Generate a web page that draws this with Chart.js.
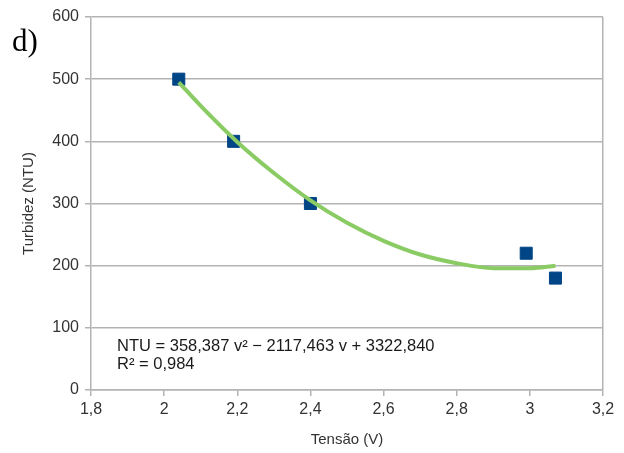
<!DOCTYPE html>
<html>
<head>
<meta charset="utf-8">
<script src="https://cdn.jsdelivr.net/npm/chart.js@4/dist/chart.umd.min.js"></script>
<style>
  html, body { margin: 0; padding: 0; background: #fff; }
  #wrap { width: 624px; height: 453px; position: relative; }
</style>
</head>
<body>
<div id="wrap"><canvas id="c"></canvas></div>
<script>
// measured points
const tensao = [2.04, 2.19, 2.4, 2.99, 3.07]
const turbidez = [500, 400, 300, 220, 180]

// polynomial trend line
const trendX = [2.04, 2.1, 2.2, 2.3, 2.4, 2.5, 2.6, 2.7, 2.8, 2.9, 3.0, 3.07]
const trendY = [495, 457, 399, 349, 305, 269, 240, 218, 204, 196, 196, 200]

const xTicks = [1.8, 2, 2.2, 2.4, 2.6, 2.8, 3, 3.2]
const yTicks = [0, 100, 200, 300, 400, 500, 600]

const eqLines = ["NTU = 358,387 v² − 2117,463 v + 3322,840", "R² = 0,984"]

const grey = "#b3b3b3"
const fmt = v => String(v).replace(".", ",")

const extras = {
  id: "extras",
  afterDraw(chart) {
    const c = chart.ctx
    const a = chart.chartArea
    c.save()
    c.fillStyle = "#000"
    c.font = "31px 'Liberation Serif'"
    c.textBaseline = "alphabetic"
    c.fillText("d)", 12, 51)
    c.fillStyle = "#1a1a1a"
    c.font = "16.5px 'Liberation Sans'"
    c.fillText(eqLines[0], a.left + 26, 351)
    c.fillText(eqLines[1], a.left + 26, 369)
    c.restore()
  }
}

new Chart(document.getElementById("c"), {
  type: "scatter",
  data: {
    datasets: [
      {
        data: trendX.map((x, i) => ({ x, y: trendY[i] })),
        showLine: true,
        borderColor: "#8acb64",
        borderWidth: 4,
        pointRadius: 0,
        cubicInterpolationMode: "monotone"
      },
      {
        data: tensao.map((x, i) => ({ x, y: turbidez[i] })),
        backgroundColor: "#004586",
        borderColor: "#004586",
        pointStyle: "rect",
        pointRadius: 8.5,
        borderWidth: 1
      }
    ]
  },
  options: {
    responsive: true,
    maintainAspectRatio: false,
    animation: false,
    layout: { padding: { top: 17, right: 21, left: 16, bottom: 0 } },
    plugins: { legend: { display: false }, tooltip: { enabled: false } },
    scales: {
      x: {
        type: "linear",
        min: 1.8,
        max: 3.2,
        afterBuildTicks: s => { s.ticks = xTicks.map(v => ({ value: v })) },
        afterFit: s => { s.height = 63 },
        ticks: {
          callback: v => fmt(v),
          color: "#333",
          font: { family: "Liberation Sans", size: 16 },
          padding: 4,
          maxRotation: 0
        },
        grid: {
          color: ctx => ctx.index === xTicks.length - 1 ? grey : "transparent",
          tickColor: grey,
          tickLength: 6,
          lineWidth: 1.5
        },
        border: { color: grey, width: 1.5 },
        title: {
          display: true,
          text: "Tensão (V)",
          color: "#333",
          font: { family: "Liberation Sans", size: 15 },
          padding: { top: 13 }
        }
      },
      y: {
        min: 0,
        max: 600,
        afterBuildTicks: s => { s.ticks = yTicks.map(v => ({ value: v })) },
        afterFit: s => { s.width = 75 },
        ticks: {
          color: "#333",
          font: { family: "Liberation Sans", size: 16 },
          padding: 6
        },
        grid: { color: grey, tickLength: 6, lineWidth: 1.5 },
        border: { color: grey, width: 1.5 },
        title: {
          display: true,
          text: "Turbidez (NTU)",
          color: "#333",
          font: { family: "Liberation Sans", size: 15 },
          padding: { bottom: 4 }
        }
      }
    }
  },
  plugins: [extras]
})
</script>
</body>
</html>
